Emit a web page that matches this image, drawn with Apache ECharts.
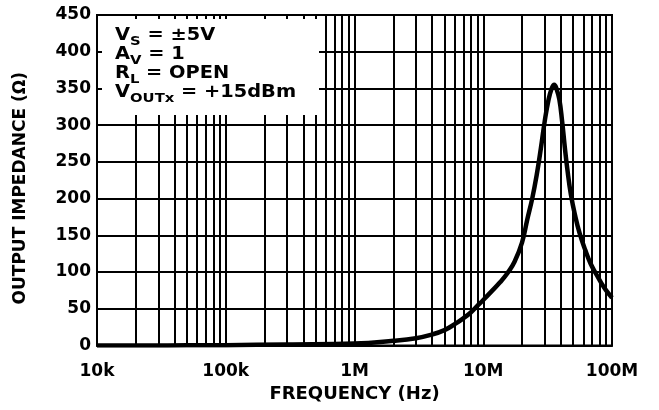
<!DOCTYPE html>
<html>
<head>
<meta charset="utf-8">
<script src="https://cdn.jsdelivr.net/npm/echarts@6/dist/echarts.min.js"></script>
<style>
html,body{margin:0;padding:0;background:#fff;}
#chart{width:659px;height:410px;}
</style>
</head>
<body>
<div id="chart"></div>
<script>
// ---- data ----
const freqHz = [1e4, 5e4, 1e5, 3e5, 1e6, 2e6, 3e6, 4e6, 5e6, 6e6, 7e6, 8e6, 9e6, 1e7, 1.15e7, 1.35e7, 1.55e7, 1.75e7, 2e7, 2.2e7, 2.4e7, 2.6e7, 2.8e7, 3e7, 3.2e7, 3.4e7, 3.56e7, 3.7e7, 3.9e7, 4.1e7, 4.3e7, 4.5e7, 4.8e7, 5.2e7, 5.6e7, 6.2e7, 6.8e7, 7.5e7, 8.2e7, 9e7, 1e8];
const impedanceOhm = [0, 0.2, 0.5, 1.5, 2.8, 6.5, 10, 15, 21, 29, 37, 45, 54, 62, 73, 86, 99, 114, 140, 172, 200, 232, 268, 305, 333, 350, 355, 350, 335, 305, 270, 240, 205, 175, 153, 130, 112, 98, 86, 75, 65];
const xTickValues = [1e4, 1e5, 1e6, 1e7, 1e8];
const xTickLabels = ['10k', '100k', '1M', '10M', '100M'];
const minorMultipliers = [2, 3, 4, 5, 6, 7, 8, 9];
const decades = [1e4, 1e5, 1e6, 1e7];
const yMin = 0, yMax = 450, yStep = 50;
const notes = [
  ['V', 'S', ' = ±5V'],
  ['A', 'V', ' = 1'],
  ['R', 'L', ' = OPEN'],
  ['V', 'OUTx', ' = +15dBm']
];

const minorFreqs = [];
decades.forEach(d => minorMultipliers.forEach(m => minorFreqs.push(d * m)));

const FONT = 'DejaVu Sans';
const chart = echarts.init(document.getElementById('chart'), null, {renderer: 'canvas'});

const noteElems = notes.map((n, i) => ({
  type: 'text',
  x: 115,
  y: 27 + i * 19,
  z: 10,
  scaleX: 1.14,
  style: {
    text: '{m|' + n[0] + '}{s|' + n[1] + '}{m|' + n[2] + '}',
    rich: {
      m: {fontFamily: FONT, fontWeight: 'bold', fontSize: 17, lineHeight: 17, verticalAlign: 'top', fill: '#000'},
      s: {fontFamily: FONT, fontWeight: 'bold', fontSize: 13, lineHeight: 13, padding: [8, 0, 0, 0], verticalAlign: 'top', fill: '#000'}
    },
    fill: '#000'
  }
}));

chart.setOption({
  animation: false,
  backgroundColor: '#fff',
  grid: {left: 97, right: 47, top: 15, bottom: 64.5, show: true, borderColor: '#000', borderWidth: 2, backgroundColor: 'transparent'},
  xAxis: {
    type: 'log',
    logBase: 10,
    min: xTickValues[0],
    max: xTickValues[xTickValues.length - 1],
    name: 'FREQUENCY (Hz)',
    nameLocation: 'middle',
    nameGap: 37,
    nameTextStyle: {fontFamily: FONT, fontWeight: 'bold', fontSize: 18, color: '#000'},
    axisLine: {show: true, lineStyle: {color: '#000', width: 2}},
    axisTick: {show: false},
    splitLine: {show: true, lineStyle: {color: '#000', width: 2}},
    axisLabel: {
      fontFamily: FONT, fontWeight: 'bold', fontSize: 17, color: '#000', margin: 18,
      showMaxLabel: true, showMinLabel: true,
      formatter: v => xTickLabels[Math.round(Math.log10(v)) - 4]
    }
  },
  yAxis: {
    type: 'value',
    min: yMin, max: yMax, interval: yStep,
    name: 'OUTPUT IMPEDANCE (Ω)',
    nameLocation: 'middle',
    nameRotate: 90,
    nameGap: 68,
    nameTextStyle: {fontFamily: FONT, fontWeight: 'bold', fontSize: 17, color: '#000', padding: [0, 16, 0, 0]},
    axisLine: {show: true, lineStyle: {color: '#000', width: 2}},
    axisTick: {show: false},
    splitLine: {show: true, lineStyle: {color: '#000', width: 2}},
    axisLabel: {fontFamily: FONT, fontWeight: 'bold', fontSize: 17, color: '#000', margin: 6}
  },
  graphic: [
    {type: 'rect', z: 5, shape: {x: 102, y: 19, width: 217, height: 96}, style: {fill: '#fff'}},
    ...noteElems
  ],
  series: [
    {
      type: 'line',
      z: 1,
      data: [],
      silent: true,
      markLine: {
        z: 1,
        silent: true,
        symbol: ['none', 'none'],
        label: {show: false},
        lineStyle: {color: '#000', width: 2, type: 'solid'},
        emphasis: {disabled: true},
        data: minorFreqs.map(f => ({xAxis: f}))
      }
    },
    {
      type: 'line',
      z: 20,
      data: freqHz.map((f, i) => [f, impedanceOhm[i]]),
      smooth: 0.45,
      showSymbol: false,
      lineStyle: {color: '#000', width: 4.5},
      itemStyle: {color: '#000'}
    }
  ]
});
</script>
</body>
</html>
